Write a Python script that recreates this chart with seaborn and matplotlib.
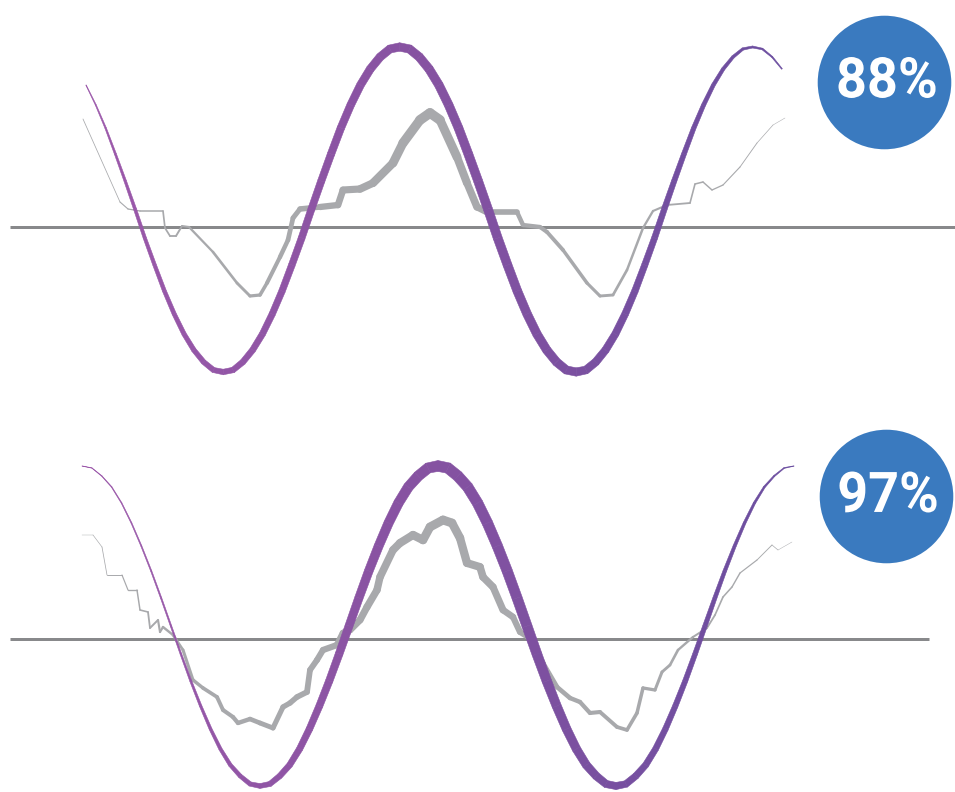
import numpy as np
import matplotlib
matplotlib.use("Agg")
import matplotlib.pyplot as plt
from matplotlib.collections import LineCollection, PolyCollection
from matplotlib.colors import to_rgb
from matplotlib.textpath import TextPath
from matplotlib.font_manager import FontProperties
from matplotlib.patches import PathPatch
from matplotlib.transforms import Affine2D
import seaborn as sns

# ---- data (x = time samples, y = signal relative to the zero line) ----
# panel 1: reference sine (sampled evenly) and measured signal
top_sine_x = np.linspace(86, 782, 72)
top_sine_y = [142, 122, 99, 73, 46, 18, -11, -38, -64, -87, -107, -123, -135, -143,
              -145, -143, -135, -123, -107, -87, -64, -38, -11, 18, 46, 73, 99, 122,
              142, 158, 170, 178, 180, 178, 170, 158, 142, 122, 99, 73, 46, 18, -11,
              -38, -64, -87, -107, -123, -135, -143, -145, -143, -135, -123, -107, -87,
              -64, -38, -11, 18, 46, 73, 99, 122, 142, 158, 170, 178, 180, 178, 170, 158]
top_meas_x = [83, 120, 128, 140, 163, 165, 170, 176, 182, 189, 213, 237, 250, 260, 267,
              280, 288, 293, 300, 320, 338, 343, 360, 373, 393, 403, 420, 430, 440, 457,
              467, 477, 487, 517, 523, 540, 547, 563, 587, 600, 613, 627, 643, 653, 667,
              690, 695, 703, 712, 723, 740, 757, 773, 785]
top_meas_y = [108, 25, 18, 16, 16, -1, -9, -9, 1, 0, -25, -56, -69, -68, -56,
              -30, -13, 9, 18, 20, 22, 37, 38, 44, 64, 84, 107, 114, 107, 70,
              44, 20, 15, 15, 2, 0, -5, -23, -56, -69, -68, -43, -1, 16, 22,
              24, 43, 45, 37, 42, 60, 84, 102, 109]

# panel 2
bot_sine_x = np.linspace(82, 794, 73)
bot_sine_y = [173, 171, 163, 152, 136, 116, 93, 68, 41, 13, -15, -42, -67, -90, -110,
              -126, -137, -145, -147, -145, -137, -126, -110, -90, -67, -42, -15, 13, 41,
              68, 93, 116, 136, 152, 163, 171, 173, 171, 163, 152, 136, 116, 93, 68, 41,
              13, -15, -42, -67, -90, -110, -126, -137, -145, -147, -145, -137, -126,
              -110, -90, -67, -42, -15, 13, 41, 68, 93, 116, 136, 152, 163, 171, 173]
bot_meas_x = [82, 93, 102, 107, 122, 128, 137, 140, 148, 150, 158, 160, 163, 173, 183,
              193, 203, 217, 223, 233, 238, 250, 260, 273, 283, 290, 297, 307, 310, 317,
              323, 337, 343, 350, 360, 367, 377, 380, 393, 400, 413, 423, 430, 443, 452,
              460, 467, 480, 483, 493, 503, 513, 520, 528, 543, 557, 570, 580, 590, 600,
              617, 627, 637, 643, 655, 662, 670, 678, 693, 707, 715, 723, 732, 740, 757,
              772, 778, 792]
bot_meas_y = [104, 104, 92, 64, 64, 49, 49, 29, 27, 11, 19, 7, 12, 4, -11,
              -41, -49, -58, -71, -78, -84, -80, -84, -89, -68, -64, -58, -53, -31, -21,
              -11, -6, 6, 9, 19, 32, 49, 62, 89, 96, 104, 99, 112, 119, 116,
              101, 76, 72, 62, 52, 29, 22, 7, 2, -24, -48, -59, -63, -74, -73,
              -88, -91, -74, -49, -51, -33, -26, -11, 2, 11, 24, 42, 52, 66, 79,
              94, 89, 97]

scores = ["88%", "97%"]

# ---- style ----
sns.set_theme(style="white")

PX = 0.72  # px -> pt at dpi 100
purple_l, purple_m, purple_r = "#9c58aa", "#8652a1", "#6a4d9f"
gray = "#a8a9ac"
base_col = "#88898b"
badge = "#3a7abf"
badge_font = FontProperties(family="Roboto", weight="bold")


def purple_colors(x):
    cl, cm, cr = (np.array(to_rgb(c)) for c in (purple_l, purple_m, purple_r))
    t = np.interp(x, [82, 420, 790], [0, 0.5, 1])
    return [cl + (cm - cl) * v / 0.5 if v < 0.5 else cm + (cr - cm) * (v - 0.5) / 0.5
            for v in t]


def ribbon(ax, x, y, kx, kw, z):
    # variable-width band around the curve (axes use equal px units in x and y)
    x = np.asarray(x, float)
    y = np.asarray(y, float)
    w = np.interp(x, kx, kw) / 2
    tx = np.gradient(x)
    ty = np.gradient(y)
    n = np.hypot(tx, ty)
    nx, ny = -ty / n, tx / n
    ux, uy = x + nx * w, y + ny * w
    lx, ly = x - nx * w, y - ny * w
    quads = [[(ux[i], uy[i]), (ux[i + 1], uy[i + 1]), (lx[i + 1], ly[i + 1]), (lx[i], ly[i])]
             for i in range(len(x) - 1)]
    cols = purple_colors((x[:-1] + x[1:]) / 2)
    pc = PolyCollection(quads, facecolors=cols, edgecolors=cols, linewidths=0.4, zorder=z)
    ax.add_collection(pc)


def stroke(ax, x, y, kx, kw, z):
    x = np.asarray(x, float)
    y = np.asarray(y, float)
    pts = np.column_stack([x, y]).reshape(-1, 1, 2)
    segs = np.concatenate([pts[:-1], pts[1:]], axis=1)
    mid = (x[:-1] + x[1:]) / 2
    lc = LineCollection(segs, linewidths=np.interp(mid, kx, kw) * PX, colors=gray,
                        capstyle="round", joinstyle="round", zorder=z)
    ax.add_collection(lc)


def badge_text(ax, s, cx, cy, width, height):
    tp = TextPath((0, 0), s, size=50, prop=badge_font)
    ext = tp.get_extents()
    sx = width / ext.width
    sy = height / ext.height
    tr = (Affine2D().translate(-ext.x0 - ext.width / 2, -ext.y0 - ext.height / 2)
          .scale(sx, sy).translate(cx, cy))
    ax.add_patch(PathPatch(tr.transform_path(tp), facecolor="white",
                           edgecolor="none", zorder=5))


fig = plt.figure(figsize=(9.55, 7.92), dpi=100)
ax1 = fig.add_axes([0, 382 / 792, 1, 410 / 792])
ax2 = fig.add_axes([0, 0, 1, 382 / 792])
ax1.set_xlim(0, 955)
ax1.set_ylim(-183, 227)
ax2.set_xlim(0, 955)
ax2.set_ylim(-153, 229)

panels = [
    (ax1, top_sine_x, top_sine_y, top_meas_x, top_meas_y, 955,
     ([82, 135, 220, 308, 400, 490, 572, 655, 720, 753, 785],
      [0.3, 3, 5.5, 7, 8.5, 9, 8.5, 6, 3.5, 2, 0.8]),
     ([83, 150, 250, 320, 430, 480, 520, 600, 680, 740, 785],
      [0.5, 1.5, 3, 6, 10, 7, 4.5, 3, 1.8, 1, 0.4]),
     (884, 145), (887, 149.5)),
    (ax2, bot_sine_x, bot_sine_y, bot_meas_x, bot_meas_y, 929,
     ([82, 177, 263, 347, 440, 532, 622, 705, 760, 794],
      [0.3, 1.5, 5, 8, 11, 10, 7, 4.5, 2, 0.4]),
     ([82, 140, 200, 273, 340, 443, 500, 540, 600, 640, 700, 760, 792],
      [0.3, 1.5, 3.5, 5, 6.5, 9, 7, 5, 4, 3.5, 2, 1, 0.3]),
     (886, 143), (888, 147)),
]

for i, (ax, sx, sy, mx, my, xend, sw, mw, cpos, tpos) in enumerate(panels):
    ax.hlines(0, 10, xend, color=base_col, linewidth=3 * PX, zorder=1)
    stroke(ax, mx, my, *mw, 2)
    ribbon(ax, sx, sy, *sw, 3)
    ax.scatter([cpos[0]], [cpos[1]], s=9250, color=badge, linewidths=0, zorder=4)
    badge_text(ax, scores[i], tpos[0], tpos[1], 97, 41)
    ax.set_axis_off()

fig.savefig("out.png", dpi=100)
